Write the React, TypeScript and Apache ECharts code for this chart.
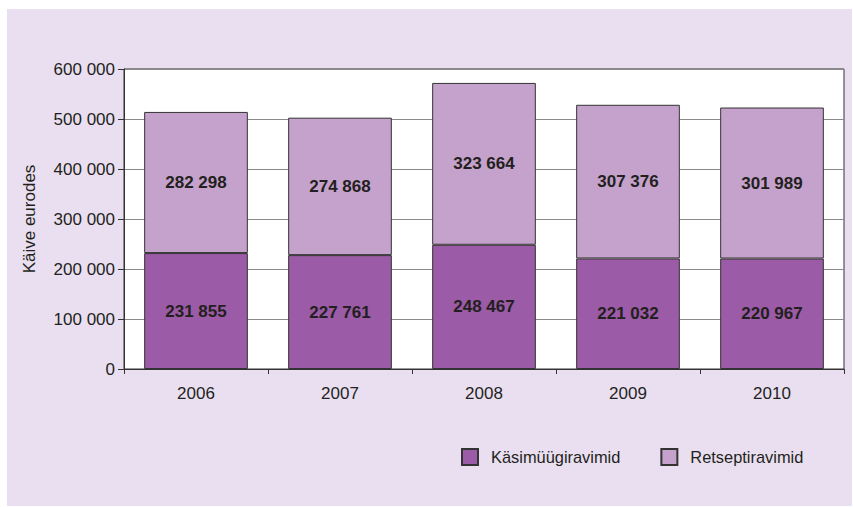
import React, { useEffect, useRef } from "react";
import * as echarts from "echarts";

const categories = ["2006", "2007", "2008", "2009", "2010"];
const otcValues = [231855, 227761, 248467, 221032, 220967];
const rxValues = [282298, 274868, 323664, 307376, 301989];
const seriesNames = ["Käsimüügiravimid", "Retseptiravimid"];
const yAxisName = "Käive eurodes";

const fmt = (v: number) => {
  const s = String(Math.round(v));
  return s.replace(/\B(?=(\d{3})+(?!\d))/g, " ");
};

const FONT = "'Liberation Sans', Arial, sans-serif";
const TEXT = "#231f20";

export default function App() {
  const ref = useRef<HTMLDivElement>(null);
  useEffect(() => {
    document.body.style.margin = "0";
    const chart = echarts.init(ref.current!, null, { renderer: "svg" });
    chart.setOption({
      animation: false,
      textStyle: { fontFamily: FONT },
      graphic: [
        {
          type: "rect",
          z: -10,
          silent: true,
          shape: { x: 7, y: 9, width: 845, height: 497 },
          style: { fill: "#eadff0" },
        },
      ],
      grid: {
        left: 124,
        right: 9,
        top: 69,
        bottom: 138,
        show: true,
        backgroundColor: "#ffffff",
        borderColor: "#333333",
        borderWidth: 1,
      },
      legend: {
        left: 456,
        top: 443,
        itemWidth: 16,
        itemHeight: 16,
        itemGap: 40,
        icon: "rect",
        data: seriesNames,
        textStyle: {
          fontSize: 16.4,
          color: TEXT,
          fontFamily: FONT,
          padding: [0, 0, 0, 8],
        },
      },
      xAxis: {
        type: "category",
        data: categories,
        axisLine: { lineStyle: { color: "#333333", width: 1 } },
        axisTick: { show: true, length: 5, lineStyle: { color: "#333333" } },
        axisLabel: { fontSize: 17, color: TEXT, margin: 16, fontFamily: FONT },
      },
      yAxis: {
        type: "value",
        min: 0,
        max: 600000,
        interval: 100000,
        name: yAxisName,
        nameLocation: "middle",
        nameGap: 86,
        nameTextStyle: { fontSize: 17, color: TEXT, fontFamily: FONT },
        axisLine: { show: true, lineStyle: { color: "#333333", width: 1 } },
        axisTick: { show: true, length: 6, lineStyle: { color: "#333333" } },
        axisLabel: {
          fontSize: 17,
          color: TEXT,
          margin: 9,
          fontFamily: FONT,
          formatter: (v: number) => fmt(v),
        },
        splitLine: { lineStyle: { color: "#8a8a8a", width: 1 } },
      },
      series: [
        {
          name: seriesNames[0],
          type: "bar",
          stack: "total",
          data: otcValues,
          barWidth: "72%",
          itemStyle: { color: "#9b5ba6", borderColor: "#333333", borderWidth: 1 },
          label: {
            show: true,
            position: "inside",
            fontSize: 17,
            fontWeight: "bold",
            color: TEXT,
            fontFamily: FONT,
            formatter: (p: any) => fmt(p.value),
          },
        },
        {
          name: seriesNames[1],
          type: "bar",
          stack: "total",
          data: rxValues,
          barWidth: "72%",
          itemStyle: { color: "#c5a2cc", borderColor: "#333333", borderWidth: 1 },
          label: {
            show: true,
            position: "inside",
            fontSize: 17,
            fontWeight: "bold",
            color: TEXT,
            fontFamily: FONT,
            formatter: (p: any) => fmt(p.value),
          },
        },
      ],
    });
    return () => chart.dispose();
  }, []);
  return <div ref={ref} style={{ width: 853, height: 507 }} />;
}
